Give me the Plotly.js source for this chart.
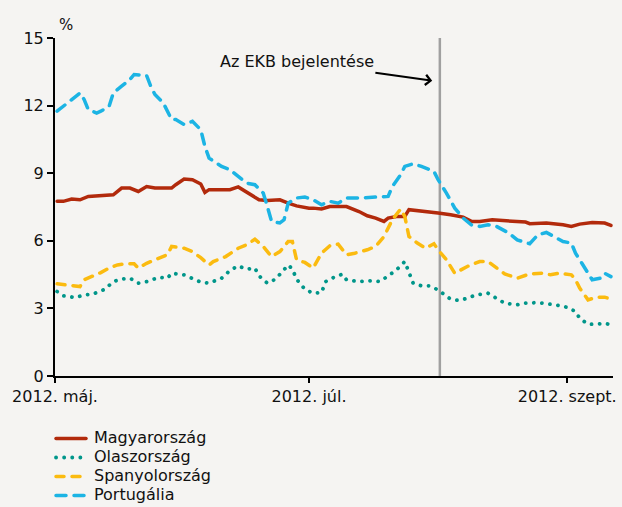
<!DOCTYPE html>
<html>
<head>
<meta charset="utf-8">
<script src="https://cdn.plot.ly/plotly-3.0.1.min.js"></script>
<style>
html, body { margin:0; padding:0; background:#f5f4f2; }
#chart { width:622px; height:507px; }
path.js-line { stroke-linecap: round; }
.legend .legendtext { font-size: 16px !important; transform: translateX(3px); }
.legend .scrollbox, .legend [clip-path] { clip-path: none !important; }
</style>
</head>
<body>
<div id="chart"></div>
<script>
// Tick labels
const tickDates = ['2012-05-01', '2012-07-01', '2012-09-01'];
const tickLabels = ['2012. máj.', '2012. júl.', '2012. szept.'];
const seriesNames = ['Magyarország', 'Olaszország', 'Spanyolország', 'Portugália'];

// Magyarország
const huDates = ['2012-05-01 12:00','2012-05-03','2012-05-05','2012-05-07','2012-05-09','2012-05-11','2012-05-15','2012-05-17','2012-05-19','2012-05-21','2012-05-23','2012-05-25','2012-05-29','2012-05-30','2012-06-01','2012-06-03','2012-06-05','2012-06-06','2012-06-07','2012-06-10','2012-06-12','2012-06-14','2012-06-16','2012-06-19','2012-06-21','2012-06-24','2012-06-26','2012-06-28','2012-07-01','2012-07-02','2012-07-04','2012-07-06','2012-07-10','2012-07-13','2012-07-15','2012-07-17','2012-07-19','2012-07-20','2012-07-22','2012-07-24','2012-07-25','2012-07-28','2012-07-30','2012-08-01','2012-08-04','2012-08-07','2012-08-09','2012-08-11','2012-08-14','2012-08-18','2012-08-22','2012-08-23','2012-08-27','2012-08-31','2012-09-02','2012-09-04','2012-09-07','2012-09-10','2012-09-11 12:00'];
const huValues = [7.75,7.75,7.85,7.82,7.97,8.0,8.04,8.34,8.34,8.19,8.41,8.34,8.34,8.49,8.74,8.71,8.52,8.15,8.27,8.27,8.27,8.39,8.15,7.82,7.79,7.82,7.67,7.55,7.45,7.45,7.41,7.52,7.52,7.3,7.11,7.01,6.86,7.01,7.08,7.08,7.38,7.3,7.26,7.23,7.16,7.05,6.86,6.86,6.93,6.89,6.83,6.76,6.79,6.71,6.64,6.74,6.81,6.79,6.68];

// Olaszország
const itDates = ['2012-05-01 12:00','2012-05-03','2012-05-06','2012-05-08','2012-05-10','2012-05-13','2012-05-15','2012-05-17','2012-05-19','2012-05-21','2012-05-23','2012-05-26','2012-05-28','2012-05-29','2012-06-01','2012-06-03','2012-06-05','2012-06-07','2012-06-10','2012-06-12','2012-06-14','2012-06-16','2012-06-18','2012-06-19','2012-06-21','2012-06-23','2012-06-25','2012-06-26','2012-06-27','2012-06-28','2012-06-30','2012-07-02','2012-07-04','2012-07-05','2012-07-07','2012-07-09','2012-07-10','2012-07-13','2012-07-16','2012-07-18','2012-07-20','2012-07-22','2012-07-24','2012-07-25','2012-07-26','2012-07-28','2012-07-30','2012-08-01','2012-08-02','2012-08-04','2012-08-06','2012-08-08','2012-08-10','2012-08-13','2012-08-15','2012-08-17','2012-08-20','2012-08-22','2012-08-25','2012-08-27','2012-08-29','2012-09-01','2012-09-03','2012-09-04','2012-09-06','2012-09-08','2012-09-10','2012-09-11 12:00'];
const itValues = [3.75,3.56,3.48,3.6,3.63,3.85,4.19,4.3,4.34,4.12,4.19,4.38,4.34,4.56,4.49,4.34,4.17,4.12,4.34,4.68,4.89,4.74,4.79,4.44,4.12,4.3,4.68,4.93,4.75,4.3,3.85,3.67,3.7,4.19,4.38,4.52,4.27,4.19,4.23,4.19,4.44,4.71,5.08,4.64,4.12,4.0,4.0,3.82,3.67,3.41,3.35,3.45,3.6,3.67,3.45,3.23,3.16,3.23,3.26,3.23,3.16,3.05,2.86,2.56,2.3,2.3,2.34,2.27];

// Spanyolország
const esDates = ['2012-05-01 12:00','2012-05-04','2012-05-07','2012-05-08','2012-05-09','2012-05-12','2012-05-14','2012-05-16','2012-05-18','2012-05-20','2012-05-21','2012-05-23','2012-05-26','2012-05-28','2012-05-29','2012-06-01','2012-06-03','2012-06-05','2012-06-07','2012-06-08','2012-06-11','2012-06-14','2012-06-16','2012-06-18','2012-06-20','2012-06-22','2012-06-24','2012-06-26','2012-06-27','2012-06-28','2012-06-30','2012-07-02','2012-07-04','2012-07-06','2012-07-08','2012-07-10','2012-07-12','2012-07-15','2012-07-17','2012-07-19','2012-07-21','2012-07-22','2012-07-23','2012-07-24','2012-07-25','2012-07-27','2012-07-29','2012-07-31','2012-08-01','2012-08-03','2012-08-05','2012-08-08','2012-08-11','2012-08-13','2012-08-15','2012-08-17','2012-08-20','2012-08-23','2012-08-26','2012-08-28','2012-08-30','2012-09-02','2012-09-03','2012-09-04','2012-09-06','2012-09-08','2012-09-10','2012-09-11 12:00'];
const esValues = [4.09,4.04,3.97,4.27,4.34,4.59,4.79,4.93,4.98,4.98,4.79,5.0,5.23,5.38,5.75,5.67,5.52,5.25,4.93,5.08,5.3,5.67,5.82,6.07,5.75,5.3,5.52,5.97,5.97,5.16,5.04,4.79,5.45,5.78,5.85,5.38,5.45,5.6,5.75,6.19,6.93,7.15,7.41,7.08,6.19,5.9,5.67,5.87,5.6,5.16,4.56,4.86,5.08,5.08,4.79,4.53,4.34,4.53,4.56,4.49,4.56,4.49,4.27,3.9,3.38,3.5,3.5,3.41];

// Portugália
const ptDates = ['2012-05-01 12:00','2012-05-07','2012-05-08','2012-05-09','2012-05-11','2012-05-12','2012-05-14','2012-05-15','2012-05-17','2012-05-19','2012-05-20','2012-05-23','2012-05-24','2012-05-25','2012-05-27','2012-05-29','2012-05-30','2012-06-01','2012-06-03','2012-06-04','2012-06-05','2012-06-06','2012-06-07','2012-06-10','2012-06-12','2012-06-14','2012-06-16','2012-06-18','2012-06-20','2012-06-21','2012-06-22','2012-06-24','2012-06-25','2012-06-26','2012-06-28','2012-06-30','2012-07-02','2012-07-04','2012-07-06','2012-07-08','2012-07-10','2012-07-13','2012-07-16','2012-07-20','2012-07-21','2012-07-23','2012-07-24','2012-07-26','2012-07-28','2012-07-31','2012-08-01','2012-08-03','2012-08-05','2012-08-07','2012-08-09','2012-08-11','2012-08-13','2012-08-15','2012-08-18','2012-08-20','2012-08-23','2012-08-25','2012-08-27','2012-08-29','2012-08-31','2012-09-02','2012-09-03','2012-09-04','2012-09-06','2012-09-07','2012-09-09','2012-09-10','2012-09-11 12:00'];
const ptValues = [11.75,12.56,12.27,11.82,11.67,11.75,11.97,12.56,12.86,13.16,13.38,13.33,12.86,12.49,12.12,11.38,11.38,11.16,11.3,11.1,10.93,10.19,9.67,9.3,9.16,8.86,8.56,8.49,8.12,7.52,6.86,6.79,6.93,7.67,7.9,7.94,7.82,7.6,7.75,7.67,7.9,7.9,7.92,7.97,8.41,8.93,9.3,9.42,9.3,9.08,8.71,8.12,7.45,7.01,6.71,6.64,6.71,6.64,6.34,6.04,5.87,6.27,6.37,6.19,5.97,5.9,5.45,5.16,4.56,4.27,4.34,4.56,4.41];

const ecbDate = '2012-08-01 10:00';
const arrowDate = '2012-07-30 14:00';
const arrowValue = 13.1;

const font = 'DejaVu Sans, sans-serif';
const traces = [
  {x: huDates, y: huValues, name: seriesNames[0], mode: 'lines',
   line: {color: '#b22a0c', width: 3.5}},
  {x: itDates, y: itValues, name: seriesNames[1], mode: 'lines',
   line: {color: '#00968a', width: 3.8, dash: '0.1px,8px'}},
  {x: esDates, y: esValues, name: seriesNames[2], mode: 'lines',
   line: {color: '#fbbb10', width: 3.5, dash: '8px,8px'}},
  {x: ptDates, y: ptValues, name: seriesNames[3], mode: 'lines',
   line: {color: '#1cb4e4', width: 3.5, dash: '10px,8px'}}
];

const layout = {
  width: 622, height: 507,
  margin: {l: 55, r: 9, t: 38, b: 131, autoexpand: false},
  paper_bgcolor: '#f5f4f2', plot_bgcolor: '#f5f4f2',
  font: {family: font, size: 16, color: '#111'},
  showlegend: true,
  legend: {x: 51 / 622, xref: 'container', xanchor: 'left',
           y: 1 - 424 / 507, yref: 'container', yanchor: 'top',
           font: {size: 12, family: font}, bgcolor: 'rgba(0,0,0,0)',
           tracegroupgap: 0, itemwidth: 30},
  xaxis: {type: 'date', range: ['2012-05-01', '2012-09-12'],
          tickvals: tickDates, ticktext: tickLabels,
          showgrid: false, zeroline: false, showline: true, linecolor: '#000', linewidth: 2,
          ticks: 'outside', ticklen: 5, tickwidth: 2, tickcolor: '#000',
          tickfont: {size: 16, family: font}},
  yaxis: {range: [0, 15], tickvals: [0, 3, 6, 9, 12, 15],
          showgrid: false, zeroline: false, showline: true, linecolor: '#000', linewidth: 2,
          ticks: 'outside', ticklen: 6, tickwidth: 2, tickcolor: '#000',
          tickfont: {size: 16, family: font}},
  shapes: [{type: 'line', xref: 'x', yref: 'paper', x0: ecbDate, x1: ecbDate, y0: 0, y1: 1,
            line: {color: '#a0a0a0', width: 2.5}, layer: 'below'}],
  annotations: [
    {text: '%', xref: 'paper', yref: 'paper', x: 0.0, y: 1, xanchor: 'left', yanchor: 'bottom',
     showarrow: false, font: {size: 15, family: font}, xshift: 2, yshift: 2},
    {text: 'Az EKB bejelentése', x: arrowDate, y: arrowValue, xref: 'x', yref: 'y',
     showarrow: true, ax: -135, ay: -19, arrowhead: 4, arrowsize: 1, arrowwidth: 2,
     arrowcolor: '#000', font: {size: 16, family: font}, standoff: 0}
  ]
};

Plotly.newPlot('chart', traces, layout, {displayModeBar: false, staticPlot: true});
</script>
</body>
</html>
